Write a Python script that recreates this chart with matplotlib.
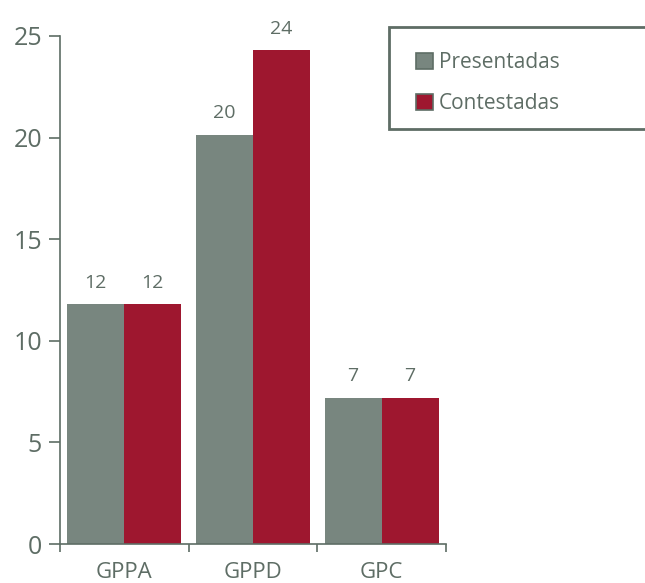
import matplotlib.pyplot as plt
from matplotlib.patches import Patch, Rectangle
import numpy as np

plt.rcParams['font.family'] = ['Open Sans', 'DejaVu Sans']

categories = ['GPPA', 'GPPD', 'GPC']
series_names = ['Presentadas', 'Contestadas']
# bar heights as drawn in the source, printed labels as shown
presentadas = [11.8, 20.15, 7.2]
contestadas = [11.8, 24.3, 7.2]
presentadas_labels = ['12', '20', '7']
contestadas_labels = ['12', '24', '7']

grey = '#78867f'
red = '#9e172f'
axis_col = '#5e6d65'
text_col = '#5e6d65'

W, H = 645, 583
fig = plt.figure(figsize=(W / 100, H / 100), dpi=100)
ax = fig.add_axes([60 / W, 1 - 544 / H, 386 / W, 508 / H])

x = np.arange(len(categories))
w = 0.443
b1 = ax.bar(x - w / 2, presentadas, w, color=grey, label=series_names[0])
b2 = ax.bar(x + w / 2, contestadas, w, color=red, label=series_names[1])

for bars, labs in ((b1, presentadas_labels), (b2, contestadas_labels)):
    for rect, lab in zip(bars, labs):
        ax.annotate(lab, (rect.get_x() + rect.get_width() / 2, rect.get_height()),
                    xytext=(0, 12), textcoords='offset points', ha='center',
                    va='baseline', fontsize=14, color=text_col)

ax.set_xlim(-0.5, 2.5)
ax.set_ylim(0, 25)
ax.set_yticks([0, 5, 10, 15, 20, 25])
ax.set_xticks([-0.5, 0.5, 1.5, 2.5])
ax.set_xticklabels([])
ax.set_xticks(x, minor=True)
ax.set_xticklabels(categories, minor=True)

ax.tick_params(axis='y', direction='out', length=8, width=1.2, color=axis_col,
               labelcolor=text_col, labelsize=18, pad=5)
ax.tick_params(axis='x', which='major', direction='out', length=6, width=1.2,
               color=axis_col)
ax.tick_params(axis='x', which='minor', length=0, labelcolor=text_col,
               labelsize=16, pad=13)

for s in ['top', 'right']:
    ax.spines[s].set_visible(False)
for s in ['left', 'bottom']:
    ax.spines[s].set_color(axis_col)
    ax.spines[s].set_linewidth(1.2)

# legend box runs off the right edge of the figure
fig.add_artist(Rectangle((389 / W, 1 - 129 / H), 300 / W, 102 / H,
                         transform=fig.transFigure, facecolor='white',
                         edgecolor=axis_col, linewidth=2))
handles = [Patch(facecolor=grey, edgecolor=axis_col, linewidth=1.2),
           Patch(facecolor=red, edgecolor=axis_col, linewidth=1.2)]
leg = fig.legend(handles, series_names, loc='upper left',
                 bbox_to_anchor=(416 / W, 1 - 52 / H), borderaxespad=0,
                 fontsize=15, handlelength=0.8, handleheight=0.8,
                 handletextpad=0.3, borderpad=0, labelspacing=0.97,
                 frameon=False, labelcolor=text_col)

fig.savefig('out.png', dpi=100)
